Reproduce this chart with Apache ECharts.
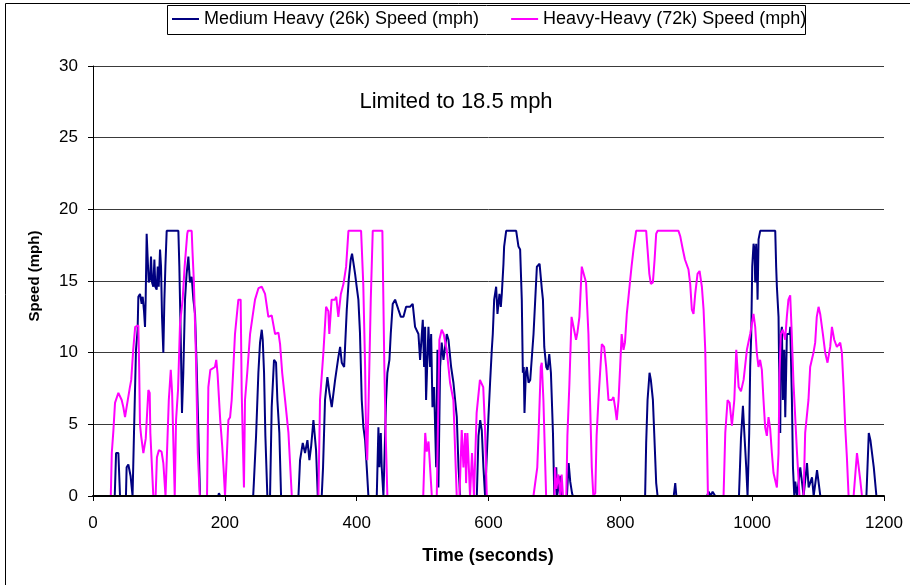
<!DOCTYPE html>
<html>
<head>
<meta charset="utf-8">
<script src="https://cdn.jsdelivr.net/npm/echarts@6/dist/echarts.min.js"></script>
<style>
html,body{margin:0;padding:0;background:#fff;}
#chart{width:910px;height:585px;}
</style>
</head>
<body>
<div id="chart"></div>
<script>
// Medium Heavy (26k) speed trace
var mhTime = [0,33,35,38.5,41,50,51,53.6,57,60,62.2,65.2,67.7,68.8,71.3,73.8,75.4,77.4,78.9,79.9,81.4,83,84.5,86.5,88,89.6,91.5,93.1,94.6,96.6,98.2,99.7,101.7,103.2,104.7,106.7,108.3,109.8,111.8,129.5,131,133,135,137,139.6,142,144.7,147,149.7,152.3,154.8,157.3,159.9,162.4,
190,191,193,243,244,247.4,250.9,253.4,256,257.5,259.5,261.5,264.5,268.6,271.1,274.6,277.7,279.7,282.7,285.3,311.7,314.1,318.2,321.7,325.3,328.3,331,334.4,338.4,341,347,349,352,355.6,358.7,362.2,367.3,369.8,372.3,374.9,377.4,381,385,388,391,393,395,397.6,400,402.6,405,407.7,410.2,412.8,415.3,417.8,
430.5,433,434.5,436.6,438,440.6,442,444.6,446.6,449.7,451.7,454.7,458.3,463.3,467,471,475,481,485,488.6,493.7,496.2,500.3,502.3,503.8,505.3,508.9,511.4,513,515,517.5,520.6,522.6,524,526.6,529,531.7,536.7,539.3,543.3,546.8,551.9,554.5,557,
582.3,584.8,587.4,589.8,592.3,594.8,597.5,599.9,602.4,605,606.5,608.6,611.6,613.6,616.6,618.7,620.2,622.7,623.7,626.8,642,645.5,648,650.5,652.1,653.5,654.6,656.7,658.2,660.7,663.3,665.8,668.3,670.9,673.4,677.5,681,682.6,684.6,687.6,689.7,692.2,694.7,697.8,699.8,702.8,704,706.4,709,711,719,721.6,724,726.7,728,
837.6,839.2,841.3,844.3,846.3,849.4,851.4,854.4,856.5,881,883.3,885,931.4,934,937,940,944,980,983,986,988,991,993,994.5,995.5,997,998.6,1000.1,1002.1,1003.6,1004.6,1006.1,1007.2,1008.2,1009.7,1012.2,1035,1036.4,1037.5,1040,1041.5,1042.6,1043.6,1045.1,1046.6,1048.7,1050.2,1052.7,1056.8,1057.8,1060.3,1061.9,1063.9,1065.4,1068,1073,1078,1083.2,1085.7,1090.8,1093.3,1098.4,1103.4,1173.3,1176.9,1179.4,1184.5,1188.5];
var mhSpeed = [0,0,3,3,0,0,2,2.2,1.4,0,4.4,10.2,11.6,13.9,14.1,13.4,13.9,12.9,11.8,13.7,18.3,18.3,14.9,15.1,16.7,14.9,14.6,16.5,14.6,14.4,16,14.6,17.2,16,12.5,10,13.7,16,18.5,18.5,16,11.3,5.8,8.6,13.7,15.5,16.7,14.9,15.3,13.7,12.7,9,4.4,0,
0,0.2,0,0,0.9,4.2,8.6,10.7,11.6,10.9,8.6,4.2,0,0,6.2,9.5,9.3,6.7,4.4,0,0,2.5,3.7,3,3.9,2.5,3.5,5.3,3.2,0,0,2,6.7,8.3,7.2,6.2,8.1,8.1,9.7,10.4,9.3,9,13,15.1,16.5,16.9,16.3,15.5,14.6,13.7,11.4,6.7,4.8,3.9,2,0,
0,4.8,2,4.4,2,0,0,6.7,8.6,9.5,11.3,13.4,13.7,13,12.5,12.5,13.2,13.2,13.4,11.8,11.3,9.5,12.3,9,11.8,6.7,11.8,9,11.3,6.2,7.6,2,10.2,0.6,9,10.7,9.5,11.3,10.9,9,7.9,5.5,2,0,
0,4.2,5.3,4.6,2,0,0,5.5,7.9,10.2,11.3,13.7,14.6,12.7,14.1,13.2,14.1,16.2,17.4,18.5,18.5,17.4,17.2,13.7,8.6,9,5.8,8.6,9,7.9,8.1,9.7,11.3,13.7,16,16.2,14.4,13.7,10.4,9,8.8,9.9,8.6,4.4,0,2,0,0,1.4,0,0,2.3,1,0.2,0,
0,3.7,6.7,8.6,8.1,6.7,4.4,0.9,0,0,0.9,0,0,0.3,0,0.3,0,0,4,6.3,4.5,2,0,0,4.4,9,11.3,16,17.6,17.2,14.9,17.6,16,13.7,17.9,18.5,18.5,16,14.6,12.5,6.7,4.4,11.3,11.8,6.7,10.2,5.5,11.3,11.3,11.8,6.7,2,0,1,0,2,0,2.3,0.6,1.3,0,1.8,0,0,4.4,3.9,2,0];

// Heavy-Heavy (72k) speed trace
var hhTime = [0,27,28.5,31,33.4,38.5,43.5,46,48.6,51,56,58,61,64,68.8,70,71.3,73,76.4,80,84,86,87,91.5,95,97,100,104,106.7,110,112,115,118,120,124,126,129,132,136,139,143,144,149.7,151,153,156,159,162,173,175,178,185,187,189,193,196,198,200.3,
203,205.4,208,210.4,213,215.4,220.5,224,225.6,227,229,230.6,234,238.3,242,245.8,251,256,261,266,271.1,276.2,281.3,283.8,287,291.4,296.5,301.6,342,344.4,349.5,353.6,357,358.5,362,367,369,372.2,376,380,384,387.5,406.7,410,412.8,414.3,416,417.8,421.4,424.4,439,442,444,446.6,
461,463,466,501,504,506.3,509,514,521.5,523,525.5,529,532,536.6,541.7,546.7,551.8,556,559.4,562,564.5,566,568,572,575,578,582,587,592,594.5,597.4,668.2,674,676,679.3,680.8,683.3,687.4,700,701,703,706,709,711,713,718,719.7,722.7,726,728.8,732.8,734.9,737.9,741.5,744,748,751.6,754,756.7,759,762,764,766.8,771.9,775.4,778.5,782,787,
789.6,792,794.6,797.3,799.7,802,804.8,807,809.8,812,815,817,820,824,839.2,841.3,844,846.3,849.4,852,854.4,856.5,888.2,891,894.8,898,903.4,906,908.5,911,913.6,917.1,920.2,923.7,926.3,928.8,931.3,932.9,956.6,959.2,962.7,965.8,969.3,972.9,975.9,979.5,983,987,992,997,1002,1004.6,1007,1009.6,1012,1014.7,1017.2,1019.7,1022.3,1024.8,1027.3,1029.9,1032.4,1037.5,1040,1041.5,1043.5,1046.6,1050,1052.6,1055,1057.7,1060,1062.7,1067.8,1071.8,
1078,1080.4,1085.4,1088,1090.5,1093,1095.6,1098,1100.7,1103.2,1107.3,1110.8,1114.3,1118.4,1121,1124.5,1128.5,1133.6,1136.1,1138.7,1141.2,1143.7,1146.3,1153.9,1159,1161.5,1164,1166.6];
var hhSpeed = [0,0,3,4.6,6.5,7.2,6.7,6.2,5.5,6.2,7.6,8.1,10.2,11.8,11.9,9,5,4.2,3,4,7.4,7.2,4.4,0,0,2.7,3.2,3.1,2.3,0,0,6.7,8.8,7.2,0,5.3,7.4,12,13.7,16,18.3,18.5,18.5,17,15,10,3,0,0,7.6,8.8,9,9.5,8.5,5.3,3.5,2,0,
0,5.3,5.5,6.7,9,11.3,13.7,13.7,7.2,4.4,0.6,6.7,8.6,11.3,12.5,13.7,14.5,14.6,14.1,12.5,12.6,11.3,11.4,10.6,8.6,6.7,4.4,0,0,6.7,10,13.2,12.9,11.3,13.7,13.7,13.9,12.5,14.1,14.8,16,18.5,18.5,14.8,9,4,2.5,6,13.7,18.5,18.5,9,4.4,0,
0,0.1,0,0,4.4,3.1,3.8,0,0,4,10.9,11.6,11.3,10.2,7.9,6.7,0,0,4.6,2,4.4,0.9,4.4,0,3,0,5.8,8.1,7.6,5,0,0,2,4.4,9,9.3,6.7,0,0,2,0.5,1.5,0,1.5,0,0,4.2,7.8,12.5,12.6,10.9,11.4,12.5,16,16.1,14.9,11.3,6.7,2,0,0.2,4.2,6.7,10.6,10.4,9,6.7,6.7,
6.9,6.2,5.3,6.7,9,11.3,10.2,10.7,12.7,13.7,15.1,16,17.2,18.5,18.5,17.2,15.5,14.8,14.9,16.5,18.3,18.5,18.5,18.1,17.2,16.5,15.8,14.8,13,12.7,14.1,15.5,15.7,14.6,13,10.2,4.4,0,0,4.4,6.7,6.5,4.9,6.7,10.2,7.6,7.3,8.1,10.2,11.3,12.7,11.8,10,9,9.5,8.8,6.7,4.8,4.2,5.5,4.7,3,1.6,0.6,3,8.6,11.3,11.6,10.9,12.5,13.7,14,11.4,7.9,3.2,0,
0,4.4,6.7,9,9.5,10,10.7,12.5,13.2,12.7,11.3,10,9.3,10.4,11.8,10.9,10.4,10.7,10,7.6,4.8,2.7,0,0,3,2.9,1.1,0];

var xTicks = [0,200,400,600,800,1000,1200];
var yTicks = [0,5,10,15,20,25,30];
var seriesNames = ['Medium Heavy (26k) Speed (mph)', 'Heavy-Heavy (72k) Speed (mph)'];
var annotation = 'Limited to 18.5 mph';

function pairs(t, v) { return t.map(function (x, i) { return [x, v[i]]; }); }

var chart = echarts.init(document.getElementById('chart'), null, {renderer: 'canvas'});
var FONT = '"Liberation Sans", Arial, sans-serif';
chart.setOption({
  animation: false,
  backgroundColor: '#fff',
  grid: {left: 93, right: 26, top: 66, bottom: 89},
  legend: {
    left: 172, top: 10, padding: 0,
    itemWidth: 27, itemHeight: 2, itemGap: 32,
    icon: 'rect',
    textStyle: {fontFamily: FONT, fontSize: 18, color: '#000', padding: [0, 0, 0, 0]},
    data: seriesNames
  },
  xAxis: {
    type: 'value', min: xTicks[0], max: xTicks[xTicks.length - 1], interval: 200, z: 10,
    axisLine: {lineStyle: {color: '#000', width: 2}},
    axisTick: {show: true, inside: false, length: 5, lineStyle: {color: '#000', width: 1}},
    axisLabel: {fontFamily: FONT, fontSize: 17, color: '#000', margin: 19,
      formatter: function (v) { return String(v); }},
    splitLine: {show: false}
  },
  yAxis: {
    type: 'value', min: yTicks[0], max: yTicks[yTicks.length - 1], interval: 5,
    axisLine: {show: true, lineStyle: {color: '#000', width: 1}},
    axisTick: {show: true, inside: false, length: 5, lineStyle: {color: '#000'}},
    axisLabel: {fontFamily: FONT, fontSize: 17, color: '#000', margin: 15},
    splitLine: {show: true, lineStyle: {color: '#3a3a3a', width: 1}}
  },
  series: [
    {name: seriesNames[0], type: 'line', data: pairs(mhTime, mhSpeed), showSymbol: false,
     lineStyle: {color: '#000080', width: 2}, itemStyle: {color: '#000080'}},
    {name: seriesNames[1], type: 'line', data: pairs(hhTime, hhSpeed), showSymbol: false,
     lineStyle: {color: '#FF00FF', width: 2}, itemStyle: {color: '#FF00FF'}}
  ],
  graphic: [
    {type: 'rect', left: 3, top: 1, silent: true,
     shape: {x: 0, y: 0, width: 1000, height: 1000},
     style: {fill: null, stroke: '#000', lineWidth: 1}, z: -10},
    {type: 'rect', silent: true,
     shape: {x: 167.5, y: 5.5, width: 638, height: 29},
     style: {fill: null, stroke: '#000', lineWidth: 1}, z: 10},
    {type: 'text', x: 456, y: 102, silent: true,
     style: {text: annotation, fontFamily: FONT, fontSize: 22, fill: '#000', textAlign: 'center', textVerticalAlign: 'middle'}},
    {type: 'text', x: 488, y: 556, silent: true,
     style: {text: 'Time (seconds)', fontFamily: FONT, fontSize: 18, fontWeight: 'bold', fill: '#000', textAlign: 'center', textVerticalAlign: 'middle'}},
    {type: 'text', x: 35, y: 276, rotation: Math.PI / 2, silent: true,
     style: {text: 'Speed (mph)', fontFamily: FONT, fontSize: 15, fontWeight: 'bold', fill: '#000', textAlign: 'center', textVerticalAlign: 'middle'}}
  ]
});
</script>
</body>
</html>
